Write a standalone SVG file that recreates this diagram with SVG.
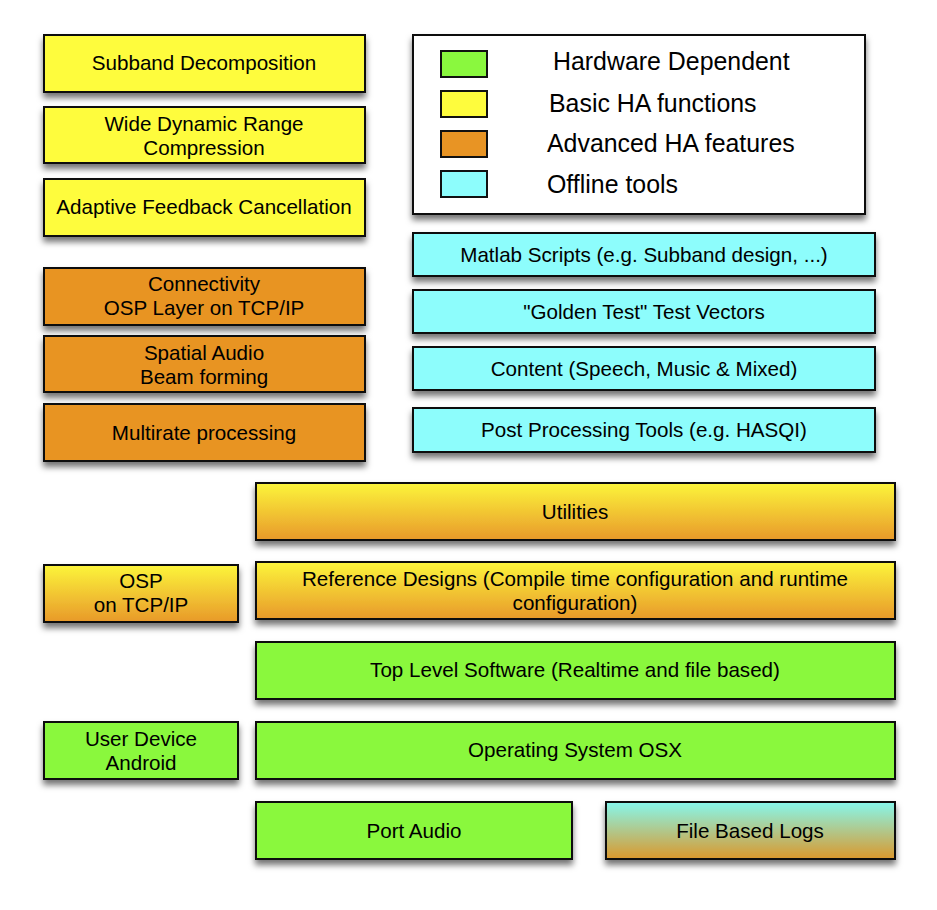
<svg xmlns="http://www.w3.org/2000/svg" width="937" height="910" viewBox="0 0 937 910">
<defs>
<filter id="sh" x="-10%" y="-20%" width="120%" height="160%">
<feDropShadow dx="0" dy="5" stdDeviation="3" flood-color="#000" flood-opacity="0.55"/>
</filter>
<linearGradient id="yo" x1="0" y1="0" x2="0" y2="1">
<stop offset="0" stop-color="#FCF53B"/>
<stop offset="1" stop-color="#E8992A"/>
</linearGradient>
<linearGradient id="co" x1="0" y1="0" x2="0" y2="1">
<stop offset="0" stop-color="#86F7EC"/>
<stop offset="1" stop-color="#DB982C"/>
</linearGradient>
</defs>
<style>
rect.b{stroke:#111;stroke-width:2;filter:url(#sh)}
.y{fill:#FEFC3D}
.o{fill:#E89424}
.g{fill:#8AF83E}
.c{fill:#8DFDFC}
.yo{fill:url(#yo)}
.co{fill:url(#co)}
text{font-family:"Liberation Sans",Arial,sans-serif;font-size:20.6px;fill:#000;text-anchor:middle}
text.lg{font-size:24.9px;text-anchor:start}
rect.sw{stroke:#111;stroke-width:2}
</style>
<rect width="937" height="910" fill="#fff"/>

<g id="subband"><rect class="b y" x="44" y="35" width="321" height="57"/><text x="204" y="70">Subband Decomposition</text></g>
<g id="wdrc"><rect class="b y" x="44" y="107" width="321" height="56"/><text x="204" y="131">Wide Dynamic Range</text><text x="204" y="155">Compression</text></g>
<g id="afc"><rect class="b y" x="44" y="179" width="321" height="57"/><text x="204" y="214">Adaptive Feedback Cancellation</text></g>

<g id="connectivity"><rect class="b o" x="44" y="268" width="321" height="57"/><text x="204" y="291">Connectivity</text><text x="204" y="315">OSP Layer on TCP/IP</text></g>
<g id="spatial"><rect class="b o" x="44" y="336" width="321" height="56"/><text x="204" y="360">Spatial Audio</text><text x="204" y="384">Beam forming</text></g>
<g id="multirate"><rect class="b o" x="44" y="404" width="321" height="57"/><text x="204" y="440">Multirate processing</text></g>

<g id="legend">
<rect class="b" x="413" y="35" width="452" height="179" fill="#fff"/>
<rect class="sw g" x="441" y="51" width="46" height="26"/>
<rect class="sw y" x="441" y="91" width="46" height="26"/>
<rect class="sw o" x="441" y="131" width="46" height="26"/>
<rect class="sw c" x="441" y="171" width="46" height="26"/>
<text class="lg" x="553" y="70">Hardware Dependent</text>
<text class="lg" x="549" y="112">Basic HA functions</text>
<text class="lg" x="547" y="152">Advanced HA features</text>
<text class="lg" x="547" y="193">Offline tools</text>
</g>

<g id="matlab"><rect class="b c" x="413" y="233" width="462" height="43"/><text x="644" y="262">Matlab Scripts (e.g. Subband design, ...)</text></g>
<g id="golden"><rect class="b c" x="413" y="290" width="462" height="43"/><text x="644" y="319">"Golden Test" Test Vectors</text></g>
<g id="content"><rect class="b c" x="413" y="347" width="462" height="43"/><text x="644" y="376">Content (Speech, Music &amp; Mixed)</text></g>
<g id="postproc"><rect class="b c" x="413" y="408" width="462" height="44"/><text x="644" y="437">Post Processing Tools (e.g. HASQI)</text></g>

<g id="utilities"><rect class="b yo" x="256" y="483" width="639" height="57"/><text x="575" y="519">Utilities</text></g>
<g id="refdesigns"><rect class="b yo" x="256" y="562" width="639" height="57"/><text x="575" y="586">Reference Designs (Compile time configuration and runtime</text><text x="575" y="610">configuration)</text></g>
<g id="osp"><rect class="b yo" x="44" y="565" width="194" height="57"/><text x="141" y="588">OSP</text><text x="141" y="612">on TCP/IP</text></g>
<g id="toplevel"><rect class="b g" x="256" y="642" width="639" height="57"/><text x="575" y="677">Top Level Software (Realtime and file based)</text></g>
<g id="userdevice"><rect class="b g" x="44" y="722" width="194" height="57"/><text x="141" y="746">User Device</text><text x="141" y="770">Android</text></g>
<g id="os"><rect class="b g" x="256" y="722" width="639" height="57"/><text x="575" y="757">Operating System OSX</text></g>
<g id="portaudio"><rect class="b g" x="256" y="802" width="316" height="57"/><text x="414" y="838">Port Audio</text></g>
<g id="filelogs"><rect class="b co" x="606" y="802" width="289" height="57"/><text x="750" y="838">File Based Logs</text></g>
<g id="connectors"/>
</svg>
